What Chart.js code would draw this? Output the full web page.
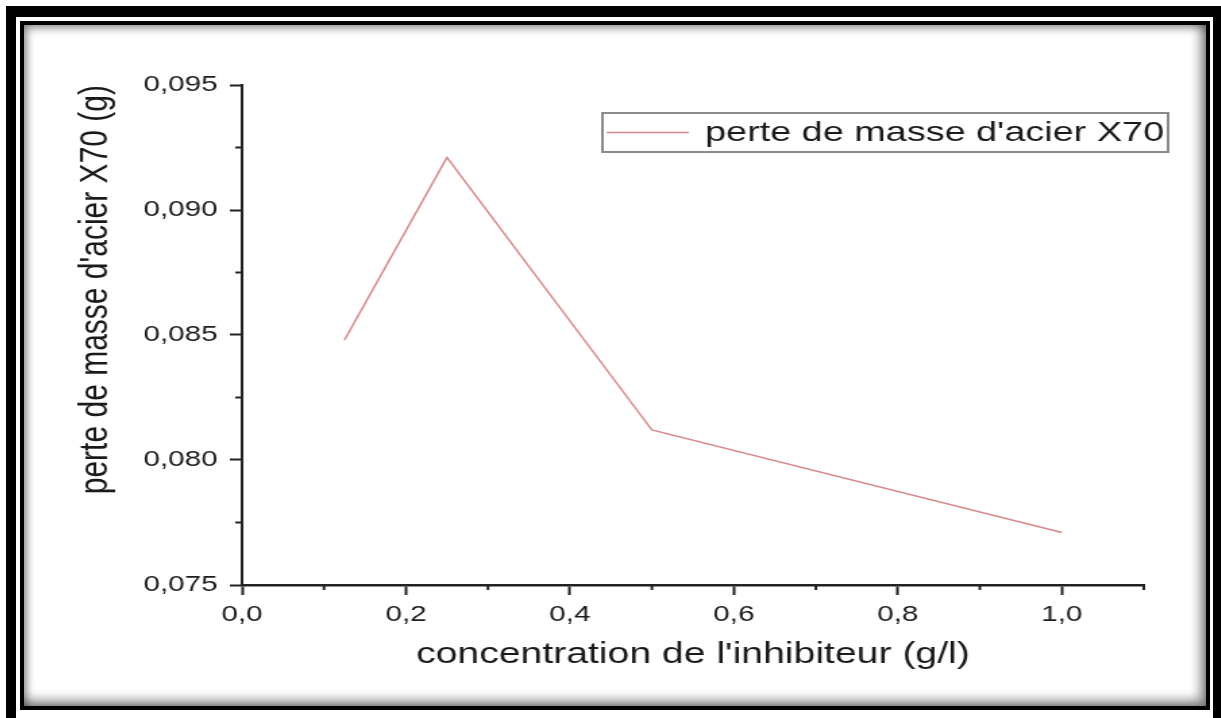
<!DOCTYPE html>
<html><head><meta charset="utf-8">
<script src="https://cdn.jsdelivr.net/npm/chart.js@4.4.1/dist/chart.umd.min.js"></script>
<style>
html,body{margin:0;padding:0;background:#fff;width:1221px;height:718px;overflow:hidden;}
#outer{position:absolute;left:6px;top:6px;width:1217px;height:740px;border-style:solid;border-color:#000;border-width:11px 10px 10px 10px;box-sizing:border-box;}
#inner{position:absolute;left:20px;top:21px;width:1190px;height:689px;border:4px solid #000;box-sizing:border-box;background:#fff;
  box-shadow: inset -5px -5px 12px rgba(0,0,0,0.5), inset 3px 3px 8px rgba(0,0,0,0.4);}
#wrap{position:absolute;left:26px;top:26px;width:873px;height:679px;transform:scaleX(1.35);transform-origin:0 0;}
</style></head>
<body>
<div id="outer"></div><div id="inner"></div>
<div id="wrap"><canvas id="c" width="873" height="679"></canvas></div>
<script>
const xValues = [0.125, 0.25, 0.5, 1.0];
const yValues = [0.0848, 0.0921, 0.0812, 0.0771];
const seriesLabel = "perte de masse d'acier X70";
const xTickValues = [0, 0.2, 0.4, 0.6, 0.8, 1.0];
const xTickLabels = ['0,0', '0,2', '0,4', '0,6', '0,8', '1,0'];
const yTickValues = [0.075, 0.080, 0.085, 0.090, 0.095];
const yTickLabels = ['0,075', '0,080', '0,085', '0,090', '0,095'];
const xTitle = "concentration de l'inhibiteur (g/l)";
const yTitle = "perte de masse d'acier X70 (g)";

Chart.defaults.font.family = "'Liberation Sans', Arial, sans-serif";
const AXIS = '#222';
const TEXT = '#1a1a1a';
const LINE = 'rgb(218,135,135)';

const minorTicks = {
  id: 'minorTicks',
  afterDraw(chart) {
    const {ctx, scales: {x, y}, chartArea: ca} = chart;
    ctx.save();
    ctx.strokeStyle = AXIS; ctx.lineWidth = 2;
    const xs = xTickValues[1] - xTickValues[0];
    xTickValues.forEach(v => {
      const m = v + xs / 2;
      if (m <= x.max + 1e-9) {
        const p = x.getPixelForValue(m);
        ctx.beginPath(); ctx.moveTo(p, ca.bottom); ctx.lineTo(p, ca.bottom + 5); ctx.stroke();
      }
    });
    const ys = yTickValues[1] - yTickValues[0];
    yTickValues.forEach(v => {
      const m = v + ys / 2;
      if (m <= y.max + 1e-9) {
        const p = y.getPixelForValue(m);
        ctx.beginPath(); ctx.moveTo(ca.left - 5, p); ctx.lineTo(ca.left, p); ctx.stroke();
      }
    });
    ctx.restore();
  }
};

const boxLegend = {
  id: 'boxLegend',
  afterDraw(chart) {
    const {ctx, chartArea: ca} = chart;
    const ds = chart.data.datasets[0];
    const left = 427, right = ca.right + 18, top = ca.top + 28, bottom = ca.top + 67;
    ctx.save();
    ctx.strokeStyle = '#8a8a8a'; ctx.lineWidth = 2;
    ctx.strokeRect(left, top, right - left, bottom - top);
    const cy = (top + bottom) / 2;
    ctx.strokeStyle = ds.borderColor; ctx.lineWidth = 1.5;
    ctx.beginPath(); ctx.moveTo(left + 3, cy); ctx.lineTo(left + 64, cy); ctx.stroke();
    ctx.fillStyle = TEXT;
    ctx.font = "28px 'Liberation Sans', Arial, sans-serif";
    ctx.textBaseline = 'middle'; ctx.textAlign = 'left';
    ctx.fillText(ds.label, left + 76, cy + 1);
    ctx.restore();
  }
};

new Chart(document.getElementById('c'), {
  type: 'line',
  data: {
    datasets: [{
      label: seriesLabel,
      data: xValues.map((v, i) => ({x: v, y: yValues[i]})),
      borderColor: LINE,
      backgroundColor: LINE,
      borderWidth: 1.5,
      pointRadius: 0,
      tension: 0,
      fill: false
    }]
  },
  options: {
    responsive: false,
    animation: false,
    devicePixelRatio: 1,
    layout: {padding: {top: 59, right: 45, bottom: 0, left: 0}},
    plugins: {legend: {display: false}, tooltip: {enabled: false}},
    scales: {
      x: {
        type: 'linear', min: 0, max: 1.1,
        afterBuildTicks: s => { s.ticks = xTickValues.map(v => ({value: v})); },
        afterFit: s => { s.height = 120; },
        ticks: {
          callback: (v, i) => xTickLabels[i],
          color: TEXT, font: {size: 22}, padding: 7, maxRotation: 0, autoSkip: false
        },
        grid: {drawOnChartArea: false, drawTicks: true, tickLength: 10, tickColor: AXIS, tickWidth: 2},
        border: {display: true, color: AXIS, width: 2.5},
        title: {display: true, text: xTitle, color: TEXT, font: {size: 29}, padding: {top: 0, bottom: 33}}
      },
      y: {
        type: 'linear', min: 0.075, max: 0.095,
        afterBuildTicks: s => { s.ticks = yTickValues.map(v => ({value: v})); },
        afterFit: s => { s.width = 160; },
        ticks: {
          callback: (v, i) => yTickLabels[i],
          color: TEXT, font: {size: 22}, padding: 9, autoSkip: false
        },
        grid: {drawOnChartArea: false, drawTicks: true, tickLength: 9, tickColor: AXIS, tickWidth: 2},
        border: {display: true, color: AXIS, width: 2},
        title: {display: true, text: yTitle, align: 'end', color: TEXT, font: {size: 30}, padding: {top: 34, bottom: 0}}
      }
    }
  },
  plugins: [minorTicks, boxLegend]
});
</script>
</body></html>
